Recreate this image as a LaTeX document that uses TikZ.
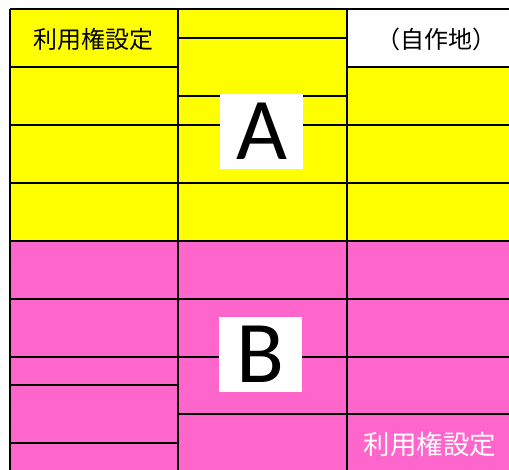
\documentclass[tikz,border=0pt]{standalone}
\usepackage{fontspec}
\setmainfont{Carlito}
\newfontfamily\cjk{Noto Sans CJK JP}
\definecolor{yel}{RGB}{255,255,0}
\definecolor{pnk}{RGB}{255,102,204}
\begin{document}
\begin{tikzpicture}[x=1pt,y=-1pt,
  grid/.style={line width=1.5pt,black},
  lbl/.style={font=\cjk\fontsize{24}{24}\selectfont,inner sep=0pt},
  bigl/.style={fill=white,minimum width=83pt,minimum height=75pt,inner sep=0pt,font=\fontsize{88}{88}\selectfont}]
\useasboundingbox (0,0) rectangle (509,470);
\clip (0,0) rectangle (509,470);
% fills
\fill[yel] (10,9) rectangle (520,241);
\fill[white] (347,9) rectangle (520,67);
\fill[pnk] (10,241) rectangle (520,480);
% vertical lines
\foreach \x in {10,178,347} \draw[grid] (\x,9) -- (\x,480);
\draw[grid] (10,9) -- (520,9);
% left column
\foreach \y in {67,125,183,241,299,357,385,443} \draw[grid] (10,\y) -- (178,\y);
% middle column
\foreach \y in {38,96,125,183,241,299,357,414} \draw[grid] (178,\y) -- (347,\y);
% right column
\foreach \y in {67,125,183,241,299,357,414} \draw[grid] (347,\y) -- (520,\y);
% labels
\node[lbl] (t1) at (93.5,39) {利用権設定};
\node[lbl] (t2) at (436,39) {（自作地）};
\node[lbl,text=white,font=\cjk\fontsize{26.5}{26.5}\selectfont] (t3) at (430,444) {利用権設定};
\node[bigl] (A) at (261.5,131.5) {A};
\node[bigl] (B) at (260,354.5) {B};
\end{tikzpicture}
\end{document}
